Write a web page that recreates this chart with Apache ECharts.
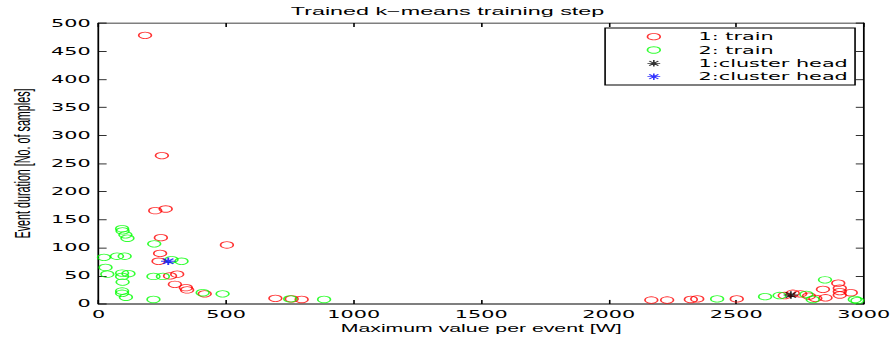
<!DOCTYPE html>
<html><head><meta charset="utf-8">
<script src="https://cdn.jsdelivr.net/npm/echarts@6/dist/echarts.min.js"></script>
<style>
html,body{margin:0;padding:0;overflow:hidden;background:#fff;width:895px;height:340px}
#c{width:560px;height:420px;transform:scale(1.598214,0.809524);transform-origin:0 0;}
</style></head><body><div id="c"></div>
<script>
const titleText = 'Trained k\u2212means training step';
const xAxisName = 'Maximum value per event [W]';
const yAxisName = 'Event duration [No. of samples]';
const seriesNames = ['1: train', '2: train', '1:cluster head', '2:cluster head'];
const xTicks = [0, 500, 1000, 1500, 2000, 2500, 3000];
const yTicks = [0, 50, 100, 150, 200, 250, 300, 350, 400, 450, 500];

const train1 = [
  [182, 478], [248, 264], [222, 166], [263, 169], [244, 118], [503, 105],
  [241, 90], [235, 76], [308, 53], [280, 50], [299, 35], [342, 29], [347, 25],
  [416, 18], [693, 10], [757, 9], [796, 8],
  [2167, 7], [2229, 7], [2322, 8], [2347, 9], [2502, 9],
  [2690, 15], [2722, 19], [2751, 18], [2785, 14], [2810, 10], [2840, 26],
  [2850, 11], [2900, 37], [2906, 28], [2906, 22], [2906, 16], [2949, 20]
];
const train2 = [
  [92, 134], [94, 130], [105, 123], [113, 117], [21, 83], [72, 85], [102, 85],
  [27, 65], [34, 53], [92, 55], [117, 54], [92, 49], [94, 39], [92, 23], [92, 19],
  [107, 12], [215, 8], [215, 49], [252, 49], [218, 107], [286, 79], [325, 76],
  [408, 20], [486, 18], [751, 9], [884, 8],
  [2425, 9], [2613, 13], [2670, 15], [2775, 17], [2800, 8], [2848, 43],
  [2965, 8], [2975, 6]
];
const head1 = [[2714, 16]];
const head2 = [[273, 76]];

const FONT = 'Liberation Sans, Arial, Helvetica, sans-serif';
const WFONT = 'DejaVu Sans, Verdana, sans-serif';
const star = 'path://M4.5,0L4.5,9M0,4.5L9,4.5M1.3,1.3L7.7,7.7M1.3,7.7L7.7,1.3';
const colors = ['#ff0000', '#00ff00', '#000000', '#0000ff'];

const chart = echarts.init(document.getElementById('c'), null, {renderer: 'svg', width: 560, height: 420});

function axisCommon(extra) {
  return Object.assign({
    type: 'value',
    axisLine: {show: true, onZero: false, lineStyle: {color: '#000', width: 1.1}},
    axisTick: {show: true, inside: true, length: 5, lineStyle: {color: '#000', width: 1}},
    splitLine: {show: false}
  }, extra);
}
const plain = v => String(v);

chart.setOption({
  animation: false,
  backgroundColor: '#fff',
  title: {
    text: titleText, left: 'center', top: 6, padding: 0,
    textStyle: {fontFamily: FONT, fontSize: 14.6, fontWeight: 'normal', color: '#000'}
  },
  grid: {left: 57, top: 28.4, width: 485, height: 347.1, containLabel: false},
  xAxis: [
    axisCommon({
      position: 'bottom', min: xTicks[0], max: xTicks[xTicks.length - 1], interval: 500,
      name: xAxisName, nameLocation: 'middle', nameGap: 18,
      nameTextStyle: {fontFamily: FONT, fontSize: 13.3, color: '#000'},
      axisLabel: {color: '#000', fontFamily: WFONT, fontSize: 13, margin: 6, formatter: plain}
    }),
    axisCommon({
      position: 'top', min: xTicks[0], max: xTicks[xTicks.length - 1], interval: 500,
      axisLabel: {show: false}
    })
  ],
  yAxis: [
    axisCommon({
      position: 'left', min: yTicks[0], max: yTicks[yTicks.length - 1], interval: 50,
      name: yAxisName, nameLocation: 'middle', nameGap: 40,
      nameTextStyle: {fontFamily: FONT, fontSize: 13.3, color: '#000'},
      axisLabel: {color: '#000', fontFamily: WFONT, fontSize: 13, margin: 5, formatter: plain}
    }),
    axisCommon({
      position: 'right', min: yTicks[0], max: yTicks[yTicks.length - 1], interval: 50,
      axisLabel: {show: false}
    })
  ],
  legend: {
    orient: 'vertical', left: 404.6, top: 37, padding: 0, itemGap: 0,
    itemWidth: 8, itemHeight: 8, z: 10,
    textStyle: {fontFamily: WFONT, fontSize: 13, color: '#000', lineHeight: 16.5, padding: [0, 0, 0, 19]},
    data: [
      {name: seriesNames[0], icon: 'circle', itemStyle: {color: 'rgba(0,0,0,0)', borderColor: colors[0], borderWidth: 1}},
      {name: seriesNames[1], icon: 'circle', itemStyle: {color: 'rgba(0,0,0,0)', borderColor: colors[1], borderWidth: 1}},
      {name: seriesNames[2], icon: star, itemStyle: {color: 'rgba(0,0,0,0)', borderColor: colors[2], borderWidth: 1}},
      {name: seriesNames[3], icon: star, itemStyle: {color: 'rgba(0,0,0,0)', borderColor: colors[3], borderWidth: 1}}
    ]
  },
  graphic: [{
    type: 'rect', z: 5, shape: {x: 378.6, y: 34.6, width: 156.4, height: 70.4},
    style: {fill: '#fff', stroke: '#000', lineWidth: 1}
  }],
  series: [
    {name: seriesNames[0], type: 'scatter', data: train1, symbol: 'circle', symbolSize: 8,
     itemStyle: {color: 'rgba(0,0,0,0)', borderColor: colors[0], borderWidth: 1}},
    {name: seriesNames[1], type: 'scatter', data: train2, symbol: 'circle', symbolSize: 8,
     itemStyle: {color: 'rgba(0,0,0,0)', borderColor: colors[1], borderWidth: 1}},
    {name: seriesNames[2], type: 'scatter', data: head1, symbol: star, symbolSize: 9,
     itemStyle: {color: 'rgba(0,0,0,0)', borderColor: colors[2], borderWidth: 1.2}},
    {name: seriesNames[3], type: 'scatter', data: head2, symbol: star, symbolSize: 9,
     itemStyle: {color: 'rgba(0,0,0,0)', borderColor: colors[3], borderWidth: 1.2}}
  ]
});
</script></body></html>
